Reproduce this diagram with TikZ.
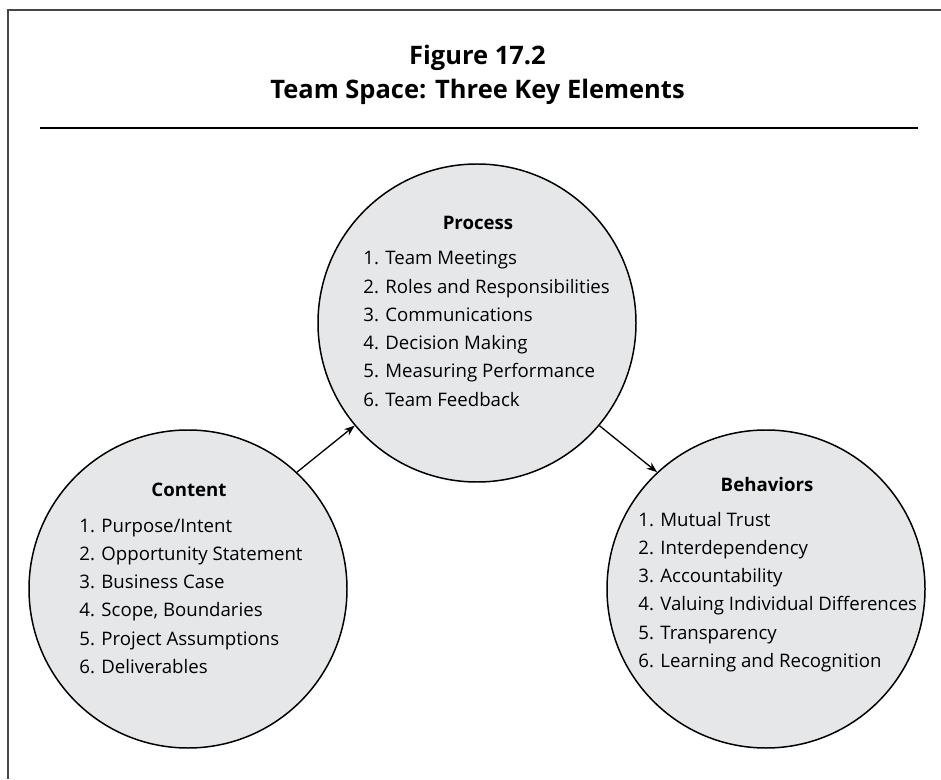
\documentclass[tikz,border=0pt]{standalone}
\usepackage{fontspec}
\setmainfont{Open Sans}
\usetikzlibrary{arrows.meta}
\definecolor{cgray}{RGB}{230,231,232}
\definecolor{fgray}{RGB}{70,70,70}

\begin{document}
\begin{tikzpicture}[
  elem/.style={circle, draw, line width=0.85pt, fill=cgray, minimum size=6.36cm, inner sep=0pt},
  head/.style={anchor=base, inner sep=0pt, font=\fontsize{10.6}{12}\selectfont\bfseries},
  item/.style={anchor=base west, inner sep=0pt, font=\fontsize{10.6}{14}\selectfont},
  ttl/.style={anchor=base, inner sep=0pt, font=\fontsize{14.5}{17}\selectfont\bfseries},
  arr/.style={-{Stealth[length=6pt, width=4.5pt]}, line width=0.75pt}
]
\useasboundingbox (0,0) rectangle (18.82,15.58);
% frame and title
\draw[line width=1.1pt, fgray] (0.16,0) -- (0.16,15.38) -- (18.82,15.38);
\node[ttl] (fig) at (9.55,14.28) {Figure 17.2};
\node[ttl] (title) at (9.55,13.60) {Team Space: Three Key Elements};
\draw[line width=0.7pt] (0.8,13.02) -- (18.36,13.02);

% the three elements
\node[elem] (proc)  at (9.54,9.12) {};
\node[elem] (cont)  at (3.76,3.80) {};
\node[elem] (behav) at (15.32,3.80) {};

\node[head] (prochead)  at (9.56,10.98) {Process};
\node[head] (conthead)  at (3.78,5.66)  {Content};
\node[head] (behavhead) at (15.34,5.76) {Behaviors};

\foreach \txt [count=\i] in {Team Meetings, Roles and Responsibilities, Communications,
    Decision Making, Measuring Performance, Team Feedback}
  \node[item] (proc\i) at (7.26,{10.28-0.565*(\i-1)}) {\i. \txt};
\foreach \txt [count=\i] in {Purpose/Intent, Opportunity Statement, Business Case,
    {Scope, Boundaries}, Project Assumptions, Deliverables}
  \node[item] (cont\i) at (1.58,{4.94-0.565*(\i-1)}) {\i. \txt};
\foreach \txt [count=\i] in {Mutual Trust, Interdependency, Accountability,
    Valuing Individual Differences, Transparency, Learning and Recognition}
  \node[item] (behav\i) at (12.76,{5.06-0.565*(\i-1)}) {\i. \txt};

\draw[arr] (cont.47) -- (proc.220);
\draw[arr] (proc.320) -- (behav.133);
\end{tikzpicture}
\end{document}
